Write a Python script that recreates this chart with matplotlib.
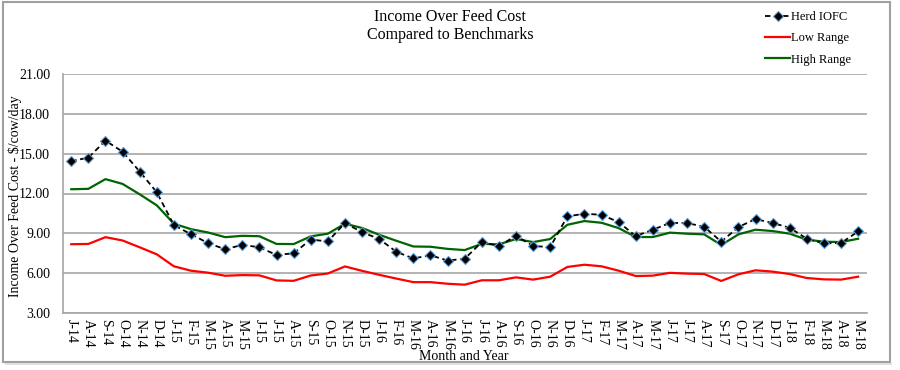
import matplotlib
matplotlib.use("Agg")
import matplotlib.pyplot as plt
from matplotlib.patches import Rectangle

months = ["J-14", "A-14", "S-14", "O-14", "N-14", "D-14",
          "J-15", "F-15", "M-15", "A-15", "M-15", "J-15", "J-15", "A-15", "S-15", "O-15", "N-15", "D-15",
          "J-16", "F-16", "M-16", "A-16", "M-16", "J-16", "J-16", "A-16", "S-16", "O-16", "N-16", "D-16",
          "J-17", "F-17", "M-17", "A-17", "M-17", "J-17", "J-17", "A-17", "S-17", "O-17", "N-17", "D-17",
          "J-18", "F-18", "M-18", "A-18", "M-18"]

herd_iofc = [14.44, 14.69, 15.97, 15.14, 13.65, 12.09,
             9.62, 8.94, 8.27, 7.81, 8.14, 7.96, 7.38, 7.51, 8.54, 8.40, 9.78, 9.09,
             8.59, 7.62, 7.12, 7.36, 6.96, 7.10, 8.35, 8.05, 8.83, 8.05, 7.98, 10.28,
             10.48, 10.40, 9.85, 8.80, 9.28, 9.79, 9.78, 9.50, 8.38, 9.48, 10.08, 9.78,
             9.43, 8.60, 8.25, 8.28, 9.15]

low_range = [8.19, 8.21, 8.72, 8.47, 7.96, 7.43,
             6.53, 6.20, 6.05, 5.82, 5.87, 5.85, 5.47, 5.44, 5.84, 5.99, 6.52, 6.19,
             5.89, 5.61, 5.34, 5.34, 5.22, 5.15, 5.48, 5.48, 5.70, 5.53, 5.75, 6.48,
             6.65, 6.53, 6.20, 5.80, 5.83, 6.04, 5.98, 5.95, 5.43, 5.93, 6.23, 6.13,
             5.95, 5.65, 5.55, 5.53, 5.75]

high_range = [12.32, 12.35, 13.08, 12.72, 11.94, 11.11,
              9.73, 9.32, 9.07, 8.72, 8.82, 8.79, 8.21, 8.20, 8.78, 8.98, 9.73, 9.41,
              8.90, 8.45, 8.02, 8.00, 7.84, 7.75, 8.22, 8.18, 8.58, 8.35, 8.58, 9.65,
              9.93, 9.80, 9.40, 8.73, 8.73, 9.06, 8.98, 8.93, 8.13, 8.93, 9.28, 9.18,
              8.98, 8.53, 8.38, 8.35, 8.60]

y_ticks = [3, 6, 9, 12, 15, 18, 21]

plt.rcParams['font.family'] = ['Liberation Serif', 'DejaVu Serif']

fig = plt.figure(figsize=(9, 3.7), dpi=100)
W, H = 900, 370
ax = fig.add_axes([62.7 / W, 1 - 313.3 / H, (866.7 - 62.7) / W, (313.3 - 73.7) / H])

x = list(range(len(months)))
grid_c = '#A6A6A6'

ax.plot(x, herd_iofc, color='black', linestyle=(0, (3, 2)), linewidth=1.3,
        marker='D', markersize=5.5, markerfacecolor='black',
        markeredgecolor='#5B9BD5', markeredgewidth=0.8, label='Herd IOFC', zorder=4)
ax.plot(x, low_range, color='#FF0000', linewidth=1.6, label='Low Range', zorder=3)
ax.plot(x, high_range, color='#006400', linewidth=1.6, label='High Range', zorder=3)

ax.set_xlim(-0.5, len(months) - 0.5)
ax.set_ylim(3, 21)
ax.set_yticks(y_ticks)
ax.set_yticklabels([f"{v:.2f}" for v in y_ticks], fontsize=10)
ax.set_xticks(x)
ax.set_xticklabels(months, rotation=-90, fontsize=10)
ax.tick_params(axis='both', length=0, pad=4)
ax.tick_params(axis='y', pad=9)

ax.grid(axis='y', color=grid_c, linewidth=1.2)
ax.set_axisbelow(True)
for s in ['top', 'right']:
    ax.spines[s].set_visible(False)
for s in ['left', 'bottom']:
    ax.spines[s].set_color(grid_c)
    ax.spines[s].set_linewidth(1.2)

fig.text(0.5, 1 - 17 / H, "Income Over Feed Cost", ha='center', va='center', fontsize=11.5)
fig.text(0.5, 1 - 35 / H, "Compared to Benchmarks", ha='center', va='center', fontsize=11.5)

fig.text(15 / W, 1 - 196 / H, "Income Over Feed Cost - $/cow/day", rotation=90,
         ha='center', va='center', fontsize=10)
fig.text(464 / W, 1 - 356 / H, "Month and Year", ha='center', va='center', fontsize=10)

leg = fig.legend(loc='upper left', bbox_to_anchor=(765 / W, 1 - 11 / H), frameon=False,
                 fontsize=9, handlelength=2.0, handletextpad=0.1, labelspacing=0.75,
                 borderaxespad=0, borderpad=0)

fig.patches.append(Rectangle((3 / W, 1 - 362 / H), (890 - 3) / W, (362 - 2) / H,
                             transform=fig.transFigure, fill=False,
                             edgecolor='#A0A0A0', linewidth=1.5))
fig.patches.append(Rectangle((5 / W, 1 - 365 / H), (892 - 5) / W, 2 / H,
                             transform=fig.transFigure, fill=True,
                             facecolor='#E0E0E0', edgecolor='none'))

fig.savefig("out.png", dpi=100)
